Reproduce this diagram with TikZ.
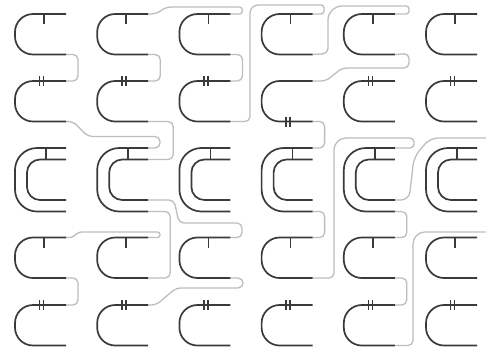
\documentclass[tikz,border=0pt]{standalone}
\usepackage{xcolor}
\usepackage{tikz}
\usetikzlibrary{calc}

\definecolor{ucolor}{HTML}{3a3a3a}
\definecolor{wirecolor}{HTML}{bdbdbd}

\begin{document}
\begin{tikzpicture}[
    x=1pt, y=-1pt,
    ubody/.style={draw=ucolor, line width=1.7pt, rounded corners=18pt},
    uouter/.style={draw=ucolor, line width=1.7pt, rounded corners=22pt},
    uinner/.style={draw=ucolor, line width=1.7pt, rounded corners=13pt},
    notch/.style={draw=ucolor, line width=1.6pt},
    wire/.style={draw=wirecolor, line width=1.3pt, rounded corners=5pt},
]

\fill[white] (0,0) rectangle (486,349);
\useasboundingbox (0,0) rectangle (486,349);

% End points of the single U's (rows 1, 2, 4, 5)
\foreach \row/\ytop in {1/14, 2/81, 4/237.5, 5/305} {
    \foreach \col in {1,...,6} {
        \pgfmathsetmacro{\lx}{15+82.2*(\col-1)}
        \coordinate (t\row\col) at (\lx+51,\ytop);
        \coordinate (b\row\col) at (\lx+51,\ytop+40.5);
    }
}
% End points of the double U's (row 3)
\foreach \col in {1,...,6} {
    \pgfmathsetmacro{\lx}{15+82.2*(\col-1)}
    \coordinate (ot\col) at (\lx+51,148);
    \coordinate (it\col) at (\lx+51,159.5);
    \coordinate (ib\col) at (\lx+51,200);
    \coordinate (ob\col) at (\lx+51,211.5);
}

% Wires
\draw[wire] (b11) -- ++(12,0) |- (t21);
\draw[wire] (b12) -- ++(12,0) |- (t22);
\draw[wire] (b13) -- ++(12,0) |- (t23);
\draw[wire] (t12) -- ++(8,0) -- (166,7) [rounded corners=3pt] -- (242.4,7) -- (242.4,14) -- (t13);
\draw[wire] (b23) -- (250,121.5) [rounded corners=8pt] -- (250,5) [rounded corners=3pt] -- (324,5) -- (324,14) -- (t14);
\draw[wire] (b14) -- (328,53.5) [rounded corners=14pt] -- (328,6) [rounded corners=3pt] -- (409,6) -- (409,14) -- (t15);
\draw[wire] (b15) -- (409,53.5) -- (409,68) -- (342,68) -- (326,81) -- (t24);
\draw[wire] (b21) -- ++(7,0) -- (88,136.5) -- (160,136.5) |- (ot2);
\draw[wire] (b22) -- ++(25,0) |- (it2);
\draw[wire] (b24) -- ++(12,0) |- (ot4);
\draw[wire] (ob4) -- ++(12,0) |- (t44);
\draw[wire] (b44) -- (334,278) [rounded corners=12pt] -- (334,138) [rounded corners=4pt] -- (414,138) -- (414,148) -- (ot5);
\draw[wire, rounded corners=8pt] (ib5) -- (409,200) -- (414,157) -- (430,138) -- (486,138);
\draw[wire] (ob5) -- ++(12,0) |- (t45);
\draw[wire] (b45) -- ++(12,0) |- (t55);
\draw[wire] (b55) -- (413,345.5) [rounded corners=12pt] -- (413,232) -- (486,232);
\draw[wire] (ob2) -- ++(22,0) |- (b42);
\draw[wire] (ib2) -- (174,200) -- (179,223) -- (242,223) |- (t43);
\draw[wire, rounded corners=2.5pt] (t41) -- ++(6,0) -- (79,232) -- (160,232) |- (t42);
\draw[wire] (b41) -- ++(12,0) |- (t51);
\draw[wire] (t52) -- ++(8,0) -- (176,288) -- (243,288) |- (b43);

% Single U's
\foreach \row/\ytop in {1/14, 2/81, 4/237.5, 5/305} {
    \foreach \col in {1,...,6} {
        \pgfmathsetmacro{\lx}{15+82.2*(\col-1)}
        \draw[ubody] (t\row\col) -- (\lx,\ytop) -- (\lx,\ytop+40.5) -- (b\row\col);
    }
}

% Double U's
\foreach \col in {1,...,6} {
    \pgfmathsetmacro{\lx}{15+82.2*(\col-1)}
    \draw[uouter] (ot\col) -- (\lx,148) -- (\lx,211.5) -- (ob\col);
    \draw[uinner] (it\col) -- (\lx+12,159.5) -- (\lx+12,200) -- (ib\col);
    \draw[notch] (\lx+31,148) -- (\lx+31,159.5);
}

% Single notches
\foreach \ytop in {14, 237.5} {
    \foreach \col in {1,...,6} {
        \pgfmathsetmacro{\lx}{15+82.2*(\col-1)}
        \draw[notch] (\lx+29,\ytop) -- ++(0,10);
    }
}

% Double notches
\foreach \col/\y in {1/81, 2/81, 3/81, 4/121.5, 5/81, 6/81,
                     1/305, 2/305, 3/305, 4/305, 5/305, 6/305} {
    \pgfmathsetmacro{\lx}{15+82.2*(\col-1)}
    \draw[notch] (\lx+24.5,\y-5) -- ++(0,10);
    \draw[notch] (\lx+28.5,\y-5) -- ++(0,10);
}

\end{tikzpicture}
\end{document}
